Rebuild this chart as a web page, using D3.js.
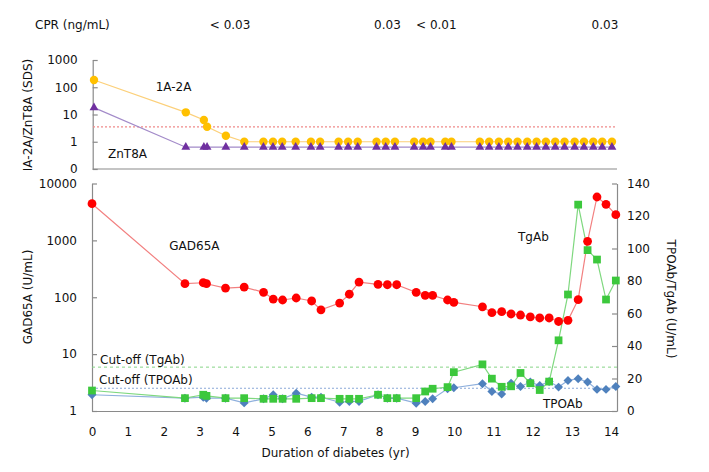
<!DOCTYPE html>
<html><head><meta charset="utf-8">
<script src="https://cdn.jsdelivr.net/npm/d3@7"></script>
<style>
html,body{margin:0;padding:0;background:#fff;}
svg{display:block;font-family:"DejaVu Sans",Verdana,sans-serif;}
</style></head>
<body>
<svg id="chart" width="709" height="472"></svg>
<script>
// ---- data ----
const times = [0, 2.59, 3.10, 3.19, 3.72, 4.24, 4.78, 5.05, 5.31, 5.69, 6.12, 6.38, 6.90, 7.17, 7.44, 7.97, 8.23, 8.49, 9.03, 9.26, 9.45, 9.83, 9.99, 10.72, 10.96, 11.21, 11.45, 11.69, 11.94, 12.18, 12.42, 12.66, 12.90, 13.16, 13.40, 13.64, 13.87, 14.12];
const ia2a = [184, 12.0, 6.3, 3.57, 1.67, 1, 1, 1, 1, 1, 1, 1, 1, 1, 1, 1, 1, 1, 1, 1, 1, 1, 1, 1, 1, 1, 1, 1, 1, 1, 1, 1, 1, 1, 1, 1, 1, 1];
const znt8a = [17.8, 0.63, 0.63, 0.63, 0.63, 0.63, 0.63, 0.63, 0.63, 0.63, 0.63, 0.63, 0.63, 0.63, 0.63, 0.63, 0.63, 0.63, 0.63, 0.63, 0.63, 0.63, 0.63, 0.63, 0.63, 0.63, 0.63, 0.63, 0.63, 0.63, 0.63, 0.63, 0.63, 0.63, 0.63, 0.63, 0.63, 0.63];
const gad65a = [4415, 173, 180, 173, 145, 151, 122, 93, 89.5, 97, 86, 60, 79, 113, 185, 169, 166, 166, 122, 108, 108, 89.5, 81.5, 68, 53.5, 55.7, 50.8, 48.7, 45, 43.2, 43.2, 37.5, 39.3, 90.6, 964, 5790, 4310, 2830];
const tgab = [12.6, 7.9, 10.0, 9.3, 7.9, 7.9, 7.5, 7.5, 7.5, 7.5, 7.9, 7.9, 7.5, 7.5, 7.5, 10.0, 7.9, 7.9, 7.9, 12.0, 13.7, 14.7, 23.9, 28.7, 19.9, 14.9, 15.2, 23.4, 17.1, 12.9, 18.1, 43.5, 71.7, 127, 99, 93.2, 68.6, 80.3];
const tpoab = [10.0, 7.9, 8.5, 7.9, 7.9, 5.0, 7.5, 10.0, 7.5, 11.0, 8.5, 8.5, 5.4, 5.9, 5.9, 10.0, 7.9, 7.9, 4.8, 5.9, 7.5, 13.7, 14.3, 16.8, 12.0, 10.4, 17.1, 15.1, 17.8, 15.7, 18.2, 14.7, 18.8, 19.9, 17.8, 13.3, 13.3, 15.1];
const cprTimes = [3.84, 8.28, 9.60, 13.94];
const cprLabels = ["< 0.03", "0.03", "< 0.01", "0.03"];
const cutoffSDS = 3.5;
const cutoffTgAb = 27;
const cutoffTPOAb = 14;
const xTicks = [0, 1, 2, 3, 4, 5, 6, 7, 8, 9, 10, 11, 12, 13, 14];
const topTicks = [0.1, 1, 10, 100, 1000];
const topTickLabels = ["0", "1", "10", "100", "1000"];
const leftTicks = [1, 10, 100, 1000, 10000];
const rightTicks = [0, 20, 40, 60, 80, 100, 120, 140];

// ---- drawing ----
const svg = d3.select("#chart");
const axisColor = "#8a8a8a";
const textColor = "#111";

// the printed time axis is stretched after year 9, so both x scales are piecewise linear
const xTop = d3.scaleLinear().domain([0, 9, 14.25]).range([94, 413, 617]);
const yTop = d3.scaleLog().domain([0.1, 1000]).range([169, 60]);
const x = d3.scaleLinear().domain([0, 9, 14.15]).range([92, 415, 617]);
const yL = d3.scaleLog().domain([1, 10000]).range([411, 183.5]);
const yR = d3.scaleLinear().domain([0, 140]).range([411, 183.5]);

function styleAxis(g) {
  g.selectAll("path").attr("stroke", axisColor).attr("stroke-width", 1.2);
  g.selectAll("line").attr("stroke", axisColor).attr("stroke-width", 1.2);
  g.selectAll("text").attr("fill", textColor).attr("font-size", 12)
    .attr("font-family", "DejaVu Sans, Verdana, sans-serif");
}

// CPR row
svg.append("text").attr("x", 35).attr("y", 29).attr("font-size", 12).attr("fill", textColor).text("CPR (ng/mL)");
svg.selectAll(".cpr").data(cprTimes).enter().append("text")
  .attr("x", d => xTop(d)).attr("y", 29).attr("text-anchor", "middle")
  .attr("font-size", 12).attr("fill", textColor).text((d, i) => cprLabels[i]);

// ---- top panel ----
const gTopY = svg.append("g").attr("transform", "translate(92.7,0)")
  .call(d3.axisLeft(yTop).tickValues(topTicks).tickFormat((d, i) => topTickLabels[i])
    .tickSizeInner(-5).tickSizeOuter(0).tickPadding(15));
styleAxis(gTopY);
svg.append("line").attr("x1", 92.7).attr("x2", xTop.range()[2]).attr("y1", 169).attr("y2", 169)
  .attr("stroke", axisColor).attr("stroke-width", 1.2);
svg.append("line").attr("x1", 93).attr("x2", xTop.range()[2]).attr("y1", yTop(cutoffSDS)).attr("y2", yTop(cutoffSDS))
  .attr("stroke", "#f08a8a").attr("stroke-width", 1.2).attr("stroke-dasharray", "2,2");

const topLine = d3.line().x((d, i) => xTop(times[i])).y(d => yTop(d));
svg.append("path").datum(znt8a).attr("d", topLine).attr("fill", "none").attr("stroke", "#a38bc9").attr("stroke-width", 1.2);
svg.append("path").datum(ia2a).attr("d", topLine).attr("fill", "none").attr("stroke", "#fcd07a").attr("stroke-width", 1.2);
svg.selectAll(".ia").data(ia2a).enter().append("circle")
  .attr("cx", (d, i) => xTop(times[i])).attr("cy", d => yTop(d)).attr("r", 4.2).attr("fill", "#ffc000");
svg.selectAll(".zn").data(znt8a).enter().append("path")
  .attr("d", d3.symbol().type(d3.symbolTriangle).size(34))
  .attr("transform", (d, i) => `translate(${xTop(times[i])},${yTop(d)})`).attr("fill", "#7030a0");

svg.append("text").attr("x", 155.7).attr("y", 87).attr("dy", "0.35em").attr("font-size", 12).attr("fill", textColor).text("1A-2A");
svg.append("text").attr("x", 108).attr("y", 154).attr("dy", "0.35em").attr("font-size", 12).attr("fill", textColor).text("ZnT8A");
svg.append("text").attr("transform", "translate(27.5,115) rotate(-90)").attr("text-anchor", "middle").attr("dy", "0.35em")
  .attr("font-size", 12).attr("fill", textColor).text("IA-2A/ZnT8A (SDS)");

// ---- bottom panel ----
const gL = svg.append("g").attr("transform", "translate(92,0)")
  .call(d3.axisLeft(yL).tickValues(leftTicks).tickFormat(d3.format("d"))
    .tickSizeInner(-5).tickSizeOuter(0).tickPadding(15));
styleAxis(gL);
const gR = svg.append("g").attr("transform", "translate(617,0)")
  .call(d3.axisRight(yR).tickValues(rightTicks).tickSizeInner(-5).tickSizeOuter(0).tickPadding(10));
styleAxis(gR);
const gB = svg.append("g").attr("transform", "translate(0,411)")
  .call(d3.axisBottom(x).tickValues(xTicks).tickFormat(d3.format("d")).tickSizeInner(0).tickSizeOuter(0).tickPadding(16));
styleAxis(gB);

svg.append("line").attr("x1", 92).attr("x2", 617).attr("y1", yR(cutoffTgAb)).attr("y2", yR(cutoffTgAb))
  .attr("stroke", "#86d486").attr("stroke-width", 1).attr("stroke-dasharray", "3,3");
svg.append("line").attr("x1", 92).attr("x2", 617).attr("y1", yR(cutoffTPOAb)).attr("y2", yR(cutoffTPOAb))
  .attr("stroke", "#8aa8d8").attr("stroke-width", 1).attr("stroke-dasharray", "2,2");

const lineR = d3.line().x((d, i) => x(times[i])).y(d => yR(d));
const lineL = d3.line().x((d, i) => x(times[i])).y(d => yL(d));
svg.append("path").datum(tpoab).attr("d", lineR).attr("fill", "none").attr("stroke", "#8fb0dd").attr("stroke-width", 1.2);
svg.append("path").datum(tgab).attr("d", lineR).attr("fill", "none").attr("stroke", "#7fd87f").attr("stroke-width", 1.2);
svg.append("path").datum(gad65a).attr("d", lineL).attr("fill", "none").attr("stroke", "#f28080").attr("stroke-width", 1.2);

svg.selectAll(".tpo").data(tpoab).enter().append("path")
  .attr("d", d3.symbol().type(d3.symbolSquare).size(40))
  .attr("transform", (d, i) => `translate(${x(times[i])},${yR(d)}) rotate(45)`).attr("fill", "#4f81bd");
svg.selectAll(".tg").data(tgab).enter().append("path")
  .attr("d", d3.symbol().type(d3.symbolSquare).size(60))
  .attr("transform", (d, i) => `translate(${x(times[i])},${yR(d)})`).attr("fill", "#3cc83c");
svg.selectAll(".gad").data(gad65a).enter().append("circle")
  .attr("cx", (d, i) => x(times[i])).attr("cy", d => yL(d)).attr("r", 4.4).attr("fill", "#ff0000");

svg.append("text").attr("x", 169.3).attr("y", 246).attr("dy", "0.35em").attr("font-size", 12).attr("fill", textColor).text("GAD65A");
svg.append("text").attr("x", 518).attr("y", 237).attr("dy", "0.35em").attr("font-size", 12).attr("fill", textColor).text("TgAb");
svg.append("text").attr("x", 543).attr("y", 404).attr("dy", "0.35em").attr("font-size", 12).attr("fill", textColor).text("TPOAb");
svg.append("text").attr("x", 100).attr("y", 359.5).attr("dy", "0.35em").attr("font-size", 12).attr("fill", textColor).text("Cut-off (TgAb)");
svg.append("text").attr("x", 99).attr("y", 380).attr("dy", "0.35em").attr("font-size", 12).attr("fill", textColor).text("Cut-off (TPOAb)");

svg.append("text").attr("transform", "translate(28,297) rotate(-90)").attr("text-anchor", "middle").attr("dy", "0.35em")
  .attr("font-size", 12).attr("fill", textColor).text("GAD65A (U/mL)");
svg.append("text").attr("transform", "translate(671,299) rotate(90)").attr("text-anchor", "middle").attr("dy", "0.35em")
  .attr("font-size", 12).attr("fill", textColor).text("TPOAb/TgAb (U/mL)");
svg.append("text").attr("x", 335.5).attr("y", 457).attr("text-anchor", "middle")
  .attr("font-size", 12).attr("fill", textColor).text("Duration of diabetes (yr)");
</script>
</body></html>
